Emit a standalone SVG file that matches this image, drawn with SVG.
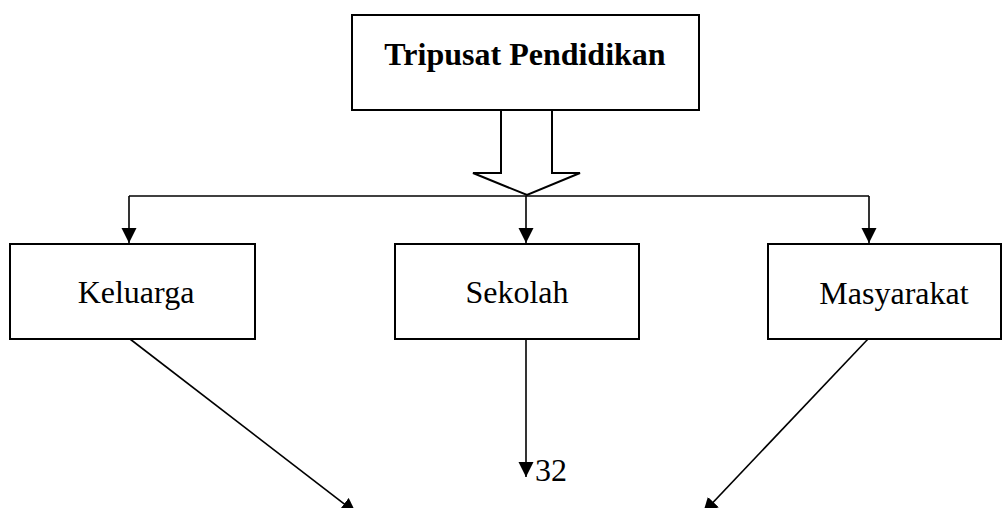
<svg xmlns="http://www.w3.org/2000/svg" width="1003" height="508" viewBox="0 0 1003 508">
<style>
.box{fill:#fff;stroke:#000;stroke-width:2}
.lbl{font-family:"Liberation Serif","Times New Roman",serif;font-size:32px;fill:#000;text-anchor:middle}
.ttl{font-weight:bold}
.ln{fill:none;stroke:#000;stroke-width:1.6}
</style>
<defs>
<marker id="ah" markerUnits="userSpaceOnUse" markerWidth="16" markerHeight="16" viewBox="0 0 16 16" refX="15" refY="8" orient="auto">
<path d="M0,0.5 L15,8 L0,15.5 Z" fill="#000"/>
</marker>
</defs>
<rect width="1003" height="508" fill="#fff"/>
<g id="connectors">
<polygon points="501,110 552,110 552,173 580,173 527,195 473,173 501,173" fill="#fff" stroke="#000" stroke-width="2"/>
<path class="ln" d="M129,196 H869"/>
<path class="ln" d="M129,196 V243" marker-end="url(#ah)"/>
<path class="ln" d="M526,196 V243" marker-end="url(#ah)"/>
<path class="ln" d="M869,196 V243" marker-end="url(#ah)"/>
<path class="ln" d="M526,339 V477" marker-end="url(#ah)"/>
<path class="ln" d="M130,339 L356,513" marker-end="url(#ah)"/>
<path class="ln" d="M868,339 L703,513" marker-end="url(#ah)"/>
</g>
<g id="tripusat">
<rect class="box" x="352" y="15" width="347" height="95"/>
<text class="lbl ttl" x="525" y="65">Tripusat Pendidikan</text>
</g>
<g id="keluarga">
<rect class="box" x="10" y="244" width="245" height="95"/>
<text class="lbl" x="136" y="303">Keluarga</text>
</g>
<g id="sekolah">
<rect class="box" x="395" y="244" width="244" height="95"/>
<text class="lbl" x="517" y="303">Sekolah</text>
</g>
<g id="masyarakat">
<rect class="box" x="768" y="244" width="233" height="95"/>
<text class="lbl" x="894" y="304">Masyarakat</text>
</g>
<text class="lbl" x="535" y="481" style="text-anchor:start">32</text>
</svg>
